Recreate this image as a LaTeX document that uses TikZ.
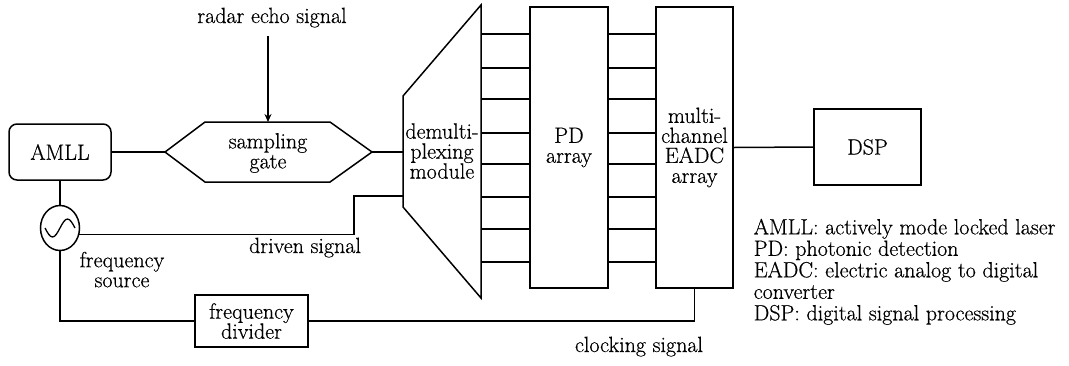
\documentclass[tikz,border=0pt]{standalone}
\usepackage{fontspec}
\setmainfont{Latin Modern Roman}[FakeBold=0.5]
\usetikzlibrary{arrows.meta,shapes.geometric}
\begin{document}
\begin{tikzpicture}[x=1pt,y=1pt,
  line width=1.5pt,
  every node/.style={font=\fontsize{22}{20}\selectfont, inner sep=0pt},
  blk/.style={draw, rectangle, align=center},
  lbl/.style={align=center},
  arr/.style={-{Stealth[length=8pt,width=7pt]}},
]
\useasboundingbox (0,0) rectangle (1069,-365);

% blocks
\node[blk, rounded corners=8pt, minimum width=102pt, minimum height=56pt] (amll) at (60,-152) {AMLL};
\node[blk, minimum width=78pt, minimum height=281pt] (pd) at (569,-147.5) {PD\\array};
\node[blk, minimum width=77pt, minimum height=281pt] (eadc) at (694.5,-147.5) {multi-\\channel\\EADC\\array};
\node[blk, minimum width=107pt, minimum height=76pt] (dsp) at (867.5,-147) {DSP};
\node[blk, minimum width=113pt, minimum height=52pt] (div) at (251.5,-321) {frequency\\divider};
\node[draw, ellipse, minimum width=39pt, minimum height=45pt] (src) at (60,-228) {};
\draw[line width=1.3pt] (45,-228) sin (52.5,-237) cos (60,-228) sin (67.5,-219) cos (75,-228);

% sampling gate (hexagon)
\draw (165,-152) coordinate (gw) -- (205,-122) -- (268,-122) coordinate (gn) -- (330,-122)
      -- (372,-152) coordinate (ge) -- (330,-182) -- (205,-182) -- cycle;
\node[lbl] (gate) at (268,-153) {sampling\\gate};

% demultiplexing module (trapezoid)
\draw (403,-96) -- (481,-5) -- (481,-298) -- (403,-207) -- cycle;
\coordinate (dw) at (403,-152);
\coordinate (dw2) at (403,-196);
\coordinate (de) at (481,-150);
\node[lbl] (demux) at (442,-151) {demulti-\\plexing\\module};

% channel lines
\foreach \y [count=\i] in {34,68,99,133,164,197,229,262} {
  \coordinate (ch\i) at (0,-\y);
  \draw (de |- ch\i) -- (pd.west |- ch\i);
  \draw (pd.east |- ch\i) -- (eadc.west |- ch\i);
}

% connectors
\draw (amll.east) -- (gw);
\draw (ge) -- (dw);
\draw (amll.south) -- (src.north);
\coordinate (dk) at (354,-196);
\draw (src.-18) -| (dk) -- (dw2);
\draw (src.south) |- (div.west);
\draw (div.east) -| (eadc.south);
\draw (eadc.east) -- (dsp.west);

% labels
\node[anchor=base] (radar) at (272,-23) {radar echo signal};
\coordinate (rs) at (268,-36);
\draw[arr] (rs) -- (gn);
\node[anchor=base] (drv) at (305,-253) {driven signal};
\node[lbl, anchor=north] (fs) at (122,-251) {frequency\\source};
\node[anchor=base] (clk) at (639,-352) {clocking signal};

% legend
\node[anchor=north west, align=left, font=\fontsize{22}{21.5}\selectfont] (legend) at (753,-218)
  {AMLL: actively mode locked laser\\PD: photonic detection\\EADC: electric analog to digital\\converter\\DSP: digital signal processing};
\end{tikzpicture}
\end{document}
